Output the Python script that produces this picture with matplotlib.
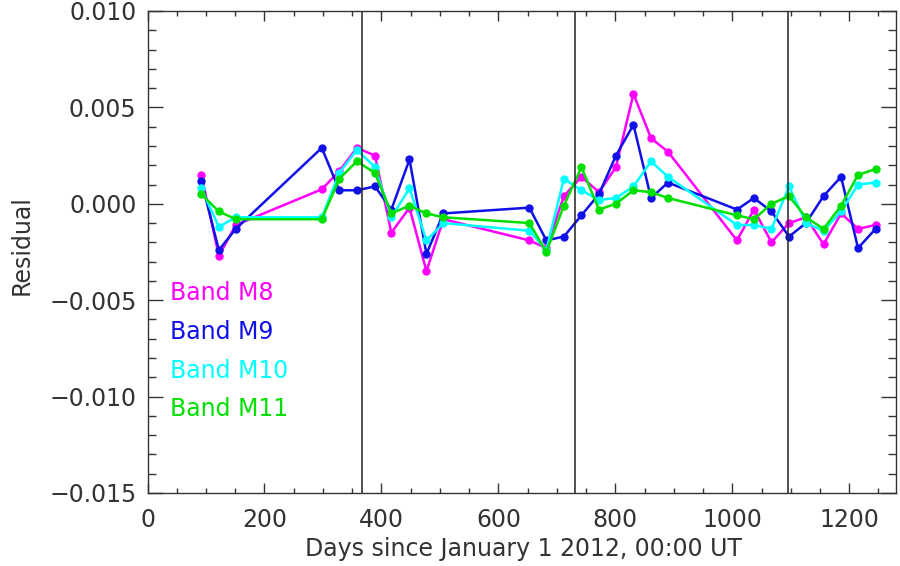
import numpy as np
import matplotlib
matplotlib.use("Agg")
import matplotlib.pyplot as plt
from matplotlib.ticker import MultipleLocator, FuncFormatter

# Days since 2012-01-01 for each monthly point
days = [92, 122, 151, 298, 328, 358, 389, 417, 448, 477, 506, 653, 682, 712, 742,
        772, 801, 831, 861, 890, 1008, 1037, 1067, 1097, 1126, 1156, 1186, 1215, 1245]

band_m8 = [0.0015, -0.0027, -0.0011, 0.00075, 0.0017, 0.0029, 0.0025, -0.0015, -0.0002,
           -0.0035, -0.0008, -0.0019, -0.0023, 0.0004, 0.0014, 0.0006, 0.0019, 0.0057,
           0.0034, 0.0027, -0.0019, -0.0003, -0.0020, -0.0010, -0.0007, -0.0021, -0.0005,
           -0.0013, -0.0011]
band_m9 = [0.0012, -0.0024, -0.0013, 0.0029, 0.0007, 0.0007, 0.0009, -0.0003, 0.0023,
           -0.0026, -0.0005, -0.0002, -0.0019, -0.0017, -0.0006, 0.0005, 0.0025, 0.0041,
           0.0003, 0.0011, -0.0003, 0.0003, -0.0004, -0.0017, -0.0010, 0.0004, 0.0014,
           -0.0023, -0.0013]
band_m10 = [0.0008, -0.0012, -0.0007, -0.0007, 0.0016, 0.0028, 0.0019, -0.0007, 0.0008,
            -0.0019, -0.0010, -0.0014, -0.0024, 0.0013, 0.0007, 0.0002, 0.0003, 0.0009,
            0.0022, 0.0014, -0.0011, -0.0011, -0.0013, 0.0009, -0.0010, -0.0014, -0.0004,
            0.0010, 0.0011]
band_m11 = [0.0005, -0.0004, -0.0008, -0.0008, 0.0013, 0.0022, 0.0016, -0.0005, -0.0001,
            -0.0005, -0.0007, -0.0010, -0.0025, -0.0001, 0.0019, -0.0003, 0.0000, 0.0007,
            0.0006, 0.0003, -0.0006, -0.0008, 0.0000, 0.0004, -0.0007, -0.0013, -0.0001,
            0.0015, 0.0018]

year_starts = [366, 731, 1096]
labels = ["Band M8", "Band M9", "Band M10", "Band M11"]
colors = ["#ff00ff", "#1010e8", "#00ffff", "#00e000"]

plt.rcParams['font.family'] = ['DejaVu Sans']
fs = 17
fig = plt.figure(figsize=(9, 5.66), dpi=100)
ax = fig.add_axes([0.1639, 0.129, 0.8317, 0.8516])

for y, c in zip([band_m8, band_m9, band_m10, band_m11], colors):
    ax.plot(days, y, color=c, linewidth=1.8, marker='o', markersize=5)

for d in year_starts:
    ax.axvline(d, color='#222222', linewidth=1.1)

ax.set_xlim(0, 1280)
ax.set_ylim(-0.015, 0.010)
ax.xaxis.set_major_locator(MultipleLocator(200))
ax.xaxis.set_minor_locator(MultipleLocator(50))
ax.yaxis.set_major_locator(MultipleLocator(0.005))
ax.yaxis.set_minor_locator(MultipleLocator(0.001))
ax.yaxis.set_major_formatter(FuncFormatter(lambda v, p: f"{v:.3f}".replace("-", "\u2212")))

ax.tick_params(which='both', direction='in', top=True, right=True, color='#333333',
               labelsize=fs, labelcolor='#333333', width=1)
ax.tick_params(axis='x', which='major', length=7, pad=11)
ax.tick_params(axis='x', which='minor', length=3.5)
ax.tick_params(axis='y', which='major', length=11, pad=8)
ax.tick_params(axis='y', which='minor', length=5.5)
for s in ax.spines.values():
    s.set_color('#333333')
    s.set_linewidth(1)

ax.set_xlabel("Days since January 1 2012, 00:00 UT", fontsize=fs, color='#333333')
ax.xaxis.set_label_coords(0.502, -0.092)
ax.set_ylabel("Residual", fontsize=fs, color='#333333')
ax.yaxis.set_label_coords(-0.152, 0.515)

for i, (lab, c) in enumerate(zip(labels, colors)):
    ax.text(0.03, 0.414 - i * 0.08, lab, color=c, fontsize=fs, transform=ax.transAxes,
            va='center', ha='left')

fig.savefig("out.png", dpi=100)
